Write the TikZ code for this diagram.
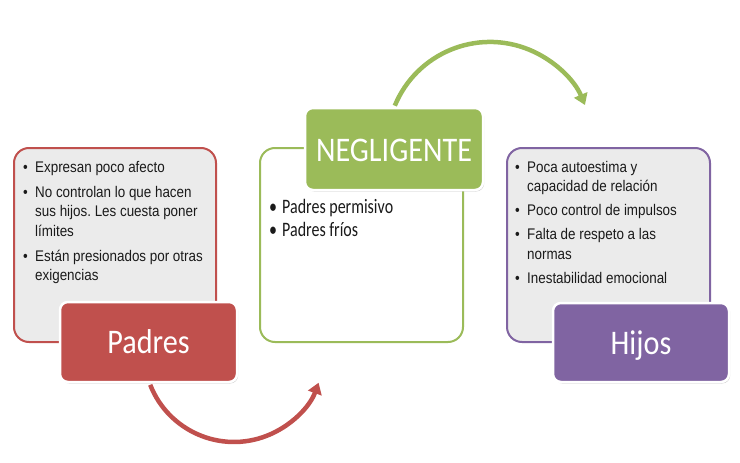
\documentclass[tikz,border=0pt]{standalone}
\usepackage{fontspec}
\setmainfont{Liberation Sans}
\newfontfamily\arialn{Liberation Sans}[FakeStretch=0.87]
\newfontfamily\calbody{Carlito}[FakeStretch=0.78]
\newfontfamily\caltitle{Carlito}[FakeStretch=0.875]
\usetikzlibrary{arrows.meta,shadows}
\definecolor{cred}{HTML}{C0504D}
\definecolor{cgreen}{HTML}{9BBB59}
\definecolor{cpurple}{HTML}{8064A2}
\definecolor{cgray}{HTML}{EBEBEB}
\definecolor{ctext}{HTML}{1A1A1A}
\frenchspacing
\tikzset{
  outerbox/.style={draw, line width=2pt, rounded corners=15pt, inner sep=0pt},
  titlebox/.style={draw=white, line width=2.5pt, rounded corners=8pt, inner sep=0pt,
    drop shadow={opacity=0.35, shadow xshift=1.2pt, shadow yshift=-1.5pt}},
  titletext/.style={text=white, inner sep=0pt, font=\caltitle\fontsize{34.5}{40}\selectfont},
  bodytext/.style={inner sep=0pt, anchor=base west, text=ctext, font=\arialn\fontsize{15.4}{19.5}\selectfont},
  midtext/.style={inner sep=0pt, anchor=base west, text=ctext, font=\calbody\fontsize{20.5}{23.5}\selectfont},
  arrowline/.style={line width=4.5pt, -{Triangle[width=14pt,length=11pt]}}
}
\begin{document}
\begin{tikzpicture}[x=1pt,y=-1pt]
\useasboundingbox (0,0) rectangle (740,463);
% arrows (behind boxes)
\coordinate (rs) at (150.2,384.8);
\coordinate (gs) at (394.8,105.7);
\draw[arrowline, cred] (rs) arc[start angle=158.6, end angle=20, radius=90];
\draw[arrowline, cgreen] (gs) arc[start angle=-157.6, end angle=-22.8, radius=103];
% outer boxes
\node[outerbox, draw=cred, fill=cgray, minimum width=202pt, minimum height=194pt] (lbox) at (115,245) {};
\node[outerbox, draw=cgreen, fill=white, minimum width=203pt, minimum height=194pt] (mbox) at (361.5,245) {};
\node[outerbox, draw=cpurple, fill=cgray, minimum width=203pt, minimum height=194pt] (rbox) at (608.5,245) {};
% texts
\node[bodytext] (ltext) at (23,172) {\begin{tabular}[t]{@{}p{12pt}@{}l@{}}
•&Expresan poco afecto\\[5.5pt]
•&No controlan lo que hacen\\
&sus hijos. Les cuesta poner\\
&límites\\[5.5pt]
•&Están presionados por otras\\
&exigencias
\end{tabular}};
\node[midtext] (mtext) at (269,213) {\begin{tabular}[t]{@{}p{13pt}@{}l@{}}
•&Padres permisivo\\
•&Padres fríos
\end{tabular}};
\node[bodytext] (rtext) at (515,172) {\begin{tabular}[t]{@{}p{12pt}@{}l@{}}
•&Poca autoestima y\\
&capacidad de relación\\[4.5pt]
•&Poco control de impulsos\\[4.5pt]
•&Falta de respeto a las\\
&normas\\[4.5pt]
•&Inestabilidad emocional
\end{tabular}};
% title boxes
\node[titlebox, fill=cred, minimum width=177pt, minimum height=80pt] (padres) at (148.5,342) {};
\node[titlebox, fill=cgreen, minimum width=178pt, minimum height=82pt] (negl) at (394,149) {};
\node[titlebox, fill=cpurple, minimum width=176pt, minimum height=79pt] (hijos) at (641,342.5) {};
\node[titletext, anchor=base] (padrest) at (148.5,353.5) {Padres};
\node[titletext, anchor=base] (neglt) at (394,161) {NEGLIGENTE};
\node[titletext, anchor=base] (hijost) at (641,354) {Hijos};
\end{tikzpicture}
\end{document}
